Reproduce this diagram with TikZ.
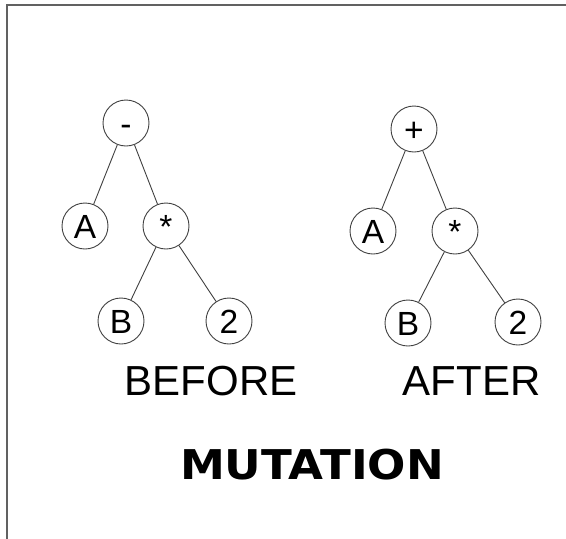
\documentclass[tikz,border=0pt]{standalone}
\usepackage{graphicx}
\usepackage{fontspec}
\setmainfont{Liberation Sans}
\newfontfamily\titlefont{DejaVu Sans}
\begin{document}
\begin{tikzpicture}[x=1pt,y=-1pt,
  treenode/.style={circle, draw=black!75, line width=0.9pt, minimum size=46pt,
    inner sep=0pt, font=\fontsize{33.5}{33.5}\selectfont,
    text height=24pt, text depth=0pt},
  treeedge/.style={draw=black!75, line width=0.9pt},
  caption/.style={font=\fontsize{42}{42}\selectfont, inner sep=0pt}]
\useasboundingbox (0,0) rectangle (566,539);
% frame open to the right and bottom
\draw[line width=2pt, draw=black!62] (7,545) -- (7,5) -- (572,5);

% tree before mutation
\node[treenode] (b-root) at (126,123) {-};
\node[treenode] (b-a)    at (85,226)  {A};
\node[treenode] (b-mul)  at (166,226) {*};
\node[treenode] (b-b)    at (121,321) {B};
\node[treenode] (b-two)  at (229,321) {2};
\draw[treeedge] (b-root) -- (b-a);
\draw[treeedge] (b-root) -- (b-mul);
\draw[treeedge] (b-mul) -- (b-b);
\draw[treeedge] (b-mul) -- (b-two);

% tree after mutation
\node[treenode] (a-root) at (414,129) {+};
\node[treenode] (a-a)    at (373,231) {A};
\node[treenode] (a-mul)  at (455,231) {*};
\node[treenode] (a-b)    at (408,323) {B};
\node[treenode] (a-two)  at (518,322) {2};
\draw[treeedge] (a-root) -- (a-a);
\draw[treeedge] (a-root) -- (a-mul);
\draw[treeedge] (a-mul) -- (a-b);
\draw[treeedge] (a-mul) -- (a-two);

% captions
\node[caption] (before) at (211,381.5) {BEFORE};
\node[caption] (after)  at (471.5,381.5) {AFTER};
\node[inner sep=0pt, font=\titlefont\bfseries\fontsize{41}{41}\selectfont] (title) at (312,465) {\scalebox{1.1}[1]{MUTATION}};
\end{tikzpicture}
\end{document}
